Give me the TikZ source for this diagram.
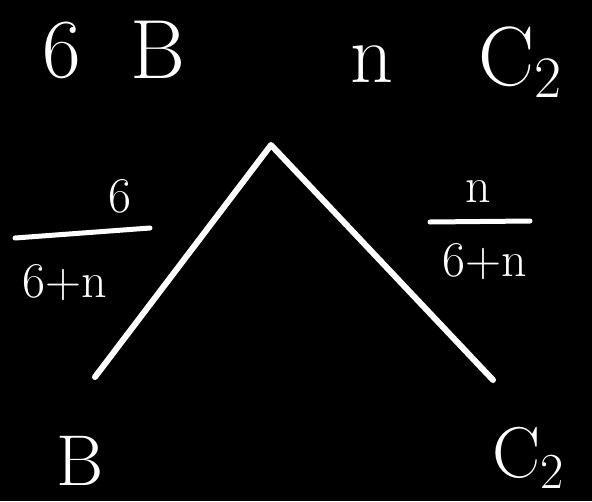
\documentclass[tikz,border=0pt]{standalone}
\usepackage{fix-cm}
\usetikzlibrary{positioning}

\begin{document}
\begin{tikzpicture}[x=1pt,y=-1pt,
every node/.style={text=white,inner sep=0pt},
big/.style={font=\fontsize{84}{88}\selectfont},
mid/.style={font=\fontsize{72}{76}\selectfont},
frac/.style={font=\fontsize{50}{54}\selectfont},
stroke/.style={white,line width=6pt,line cap=round,line join=round}]
\fill[black] (0,0) rectangle (592,501);
\useasboundingbox (0,0) rectangle (592,501);
% top labels
\node[big] (six) at (62,50) {6};
\node[big] (topB) at (158,50) {B};
\node[big] (topn) at (372,64) {n};
\node[big] (topC) at (520,62) {C\textsubscript{2}};
% tree
\coordinate (apex) at (271,145);
\coordinate (leftend) at (95,377);
\coordinate (rightend) at (493,380);
\draw[stroke] (leftend)--(apex)--(rightend);
% branch weights
\node[frac] (lnum) at (120,196) {6};
\node[frac] (lden) at (65,283) {6+n};
\coordinate (lbarL) at (15,238);
\coordinate (lbarR) at (150,228);
\draw[stroke,line width=5pt] (lbarL)--(lbarR);
\node[frac] (rnum) at (478,192) {n};
\node[frac] (rden) at (485,262) {6+n};
\coordinate (rbarL) at (430,222);
\coordinate (rbarR) at (530,221);
\draw[stroke,line width=5pt] (rbarL)--(rbarR);
% leaves
\node[mid] (leafB) at (80,461) {B};
\node[mid] (leafC) at (528,458) {C\textsubscript{2}};
\end{tikzpicture}
\end{document}
